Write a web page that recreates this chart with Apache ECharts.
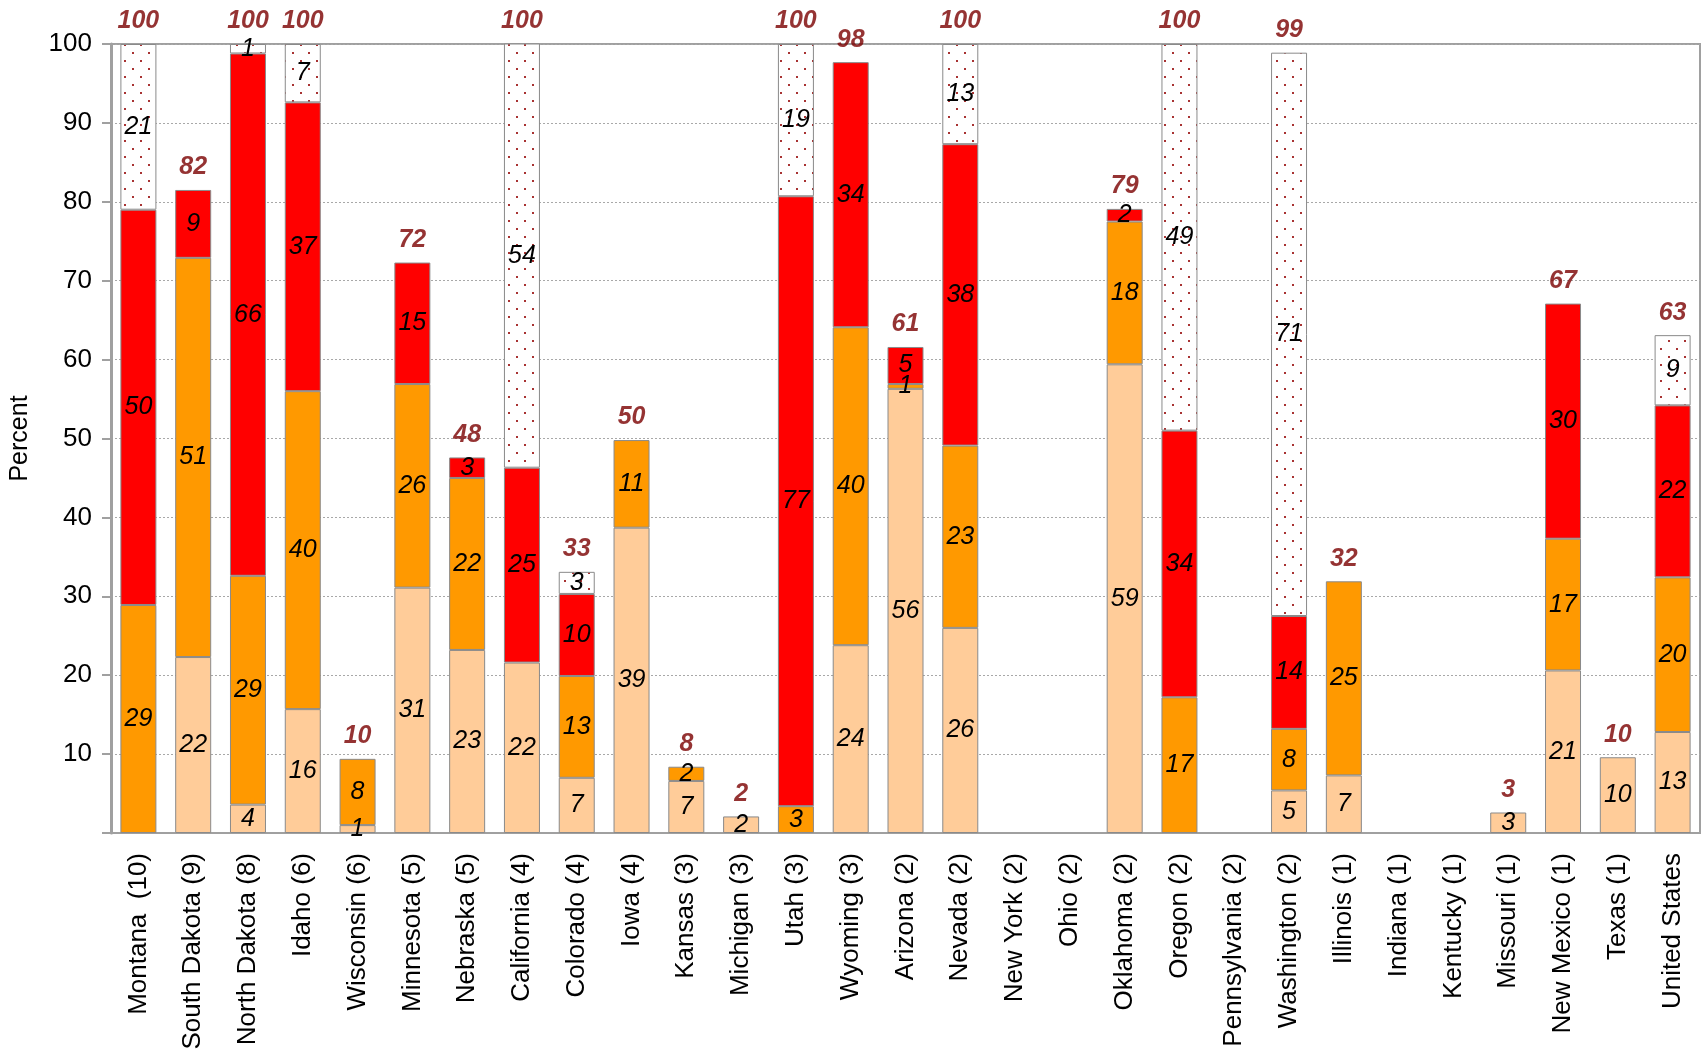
<!DOCTYPE html>
<html>
<head>
<meta charset="utf-8">
<script src="https://cdn.jsdelivr.net/npm/echarts@6/dist/echarts.min.js"></script>
<style>
  html, body { margin: 0; padding: 0; background: #fff; }
  #main { width: 1702px; height: 1057px; }
</style>
</head>
<body>
<div id="main"></div>
<script>
const categories = [
    'Montana  (10)', 'South Dakota (9)', 'North Dakota (8)', 'Idaho (6)', 'Wisconsin (6)',
    'Minnesota (5)', 'Nebraska (5)', 'California (4)', 'Colorado (4)', 'Iowa (4)',
    'Kansas (3)', 'Michigan (3)', 'Utah (3)', 'Wyoming (3)', 'Arizona (2)',
    'Nevada (2)', 'New York (2)', 'Ohio (2)', 'Oklahoma (2)', 'Oregon (2)',
    'Pennsylvania (2)', 'Washington (2)', 'Illinois (1)', 'Indiana (1)', 'Kentucky (1)',
    'Missouri (1)', 'New Mexico (1)', 'Texas (1)', 'United States'
];
// segment heights, bottom to top
const peachPart = [null, 22.3, 3.6, 15.7, 1.0, 31.1, 23.2, 21.6, 7.0, 38.7, 6.6, 2.1, null, 23.8, 56.3,
    26.0, null, null, 59.4, null, null, 5.4, 7.3, null, null, 2.6, 20.6, 9.6, 12.8];
const orangePart = [28.9, 50.6, 29.0, 40.3, 8.4, 25.8, 21.8, null, 12.9, 11.1, 1.8, null, 3.4, 40.3, 0.6,
    23.1, null, null, 18.1, 17.2, null, 7.8, 24.6, null, null, null, 16.7, null, 19.6];
const redPart = [50.1, 8.6, 66.2, 36.6, null, 15.4, 2.6, 24.7, 10.4, null, null, null, 77.3, 33.6, 4.7,
    38.2, null, null, 1.6, 33.8, null, 14.3, null, null, null, null, 29.8, null, 21.8];
const dottedPart = [21.0, null, 1.2, 7.4, null, null, null, 53.8, 2.8, null, null, null, 19.3, null, null,
    12.7, null, null, null, 49.0, null, 71.4, null, null, null, null, null, null, 8.9];
const totalLabels = [100, 82, 100, 100, 10, 72, 48, 100, 33, 50, 8, 2, 100, 98, 61,
    100, null, null, 79, 100, null, 99, 32, null, null, 3, 67, 10, 63];
const yTicks = [0, 100, 10];

const FONT = '"Liberation Sans", Arial, sans-serif';

// dotted fill for the top segment
const tile = document.createElement('canvas');
tile.width = 16;
tile.height = 16;
const g = tile.getContext('2d');
g.fillStyle = '#ffffff';
g.fillRect(0, 0, 16, 16);
g.fillStyle = '#a83232';
g.fillRect(4, 4, 2, 2);
g.fillRect(12, 12, 2, 2);

function segment(name, data, color) {
    return {
        name: name,
        type: 'bar',
        stack: 'all',
        barWidth: 36,
        data: data,
        itemStyle: { color: color, borderColor: '#8a8a8a', borderWidth: 1 },
        label: {
            show: true,
            position: 'inside',
            color: '#000',
            fontStyle: 'italic',
            fontSize: 25,
            fontFamily: FONT,
            formatter: p => (p.value == null ? '' : String(Math.round(p.value)))
        }
    };
}

const sums = categories.map((c, i) =>
    (peachPart[i] || 0) + (orangePart[i] || 0) + (redPart[i] || 0) + (dottedPart[i] || 0));

let myChart = echarts.init(document.getElementById('main'));
myChart.setOption({
    animation: false,
    grid: {
        left: 106,
        right: 2,
        top: 44,
        bottom: 224,
        show: true,
        borderColor: '#a0a0a0',
        borderWidth: 2
    },
    xAxis: {
        type: 'category',
        data: categories,
        axisLine: { lineStyle: { color: '#a0a0a0', width: 2 } },
        axisTick: { length: 8, lineStyle: { color: '#a0a0a0', width: 2 } },
        axisLabel: {
            rotate: 90,
            interval: 0,
            margin: 20,
            color: '#000',
            fontSize: 26,
            fontFamily: FONT
        }
    },
    yAxis: {
        type: 'value',
        min: yTicks[0],
        max: yTicks[1],
        interval: yTicks[2],
        name: 'Percent',
        nameLocation: 'middle',
        nameGap: 78,
        nameTextStyle: { color: '#000', fontSize: 25, fontFamily: FONT },
        axisLine: { show: true, lineStyle: { color: '#a0a0a0', width: 3 } },
        axisTick: { show: true, length: 9, lineStyle: { color: '#a0a0a0', width: 2 } },
        axisLabel: {
            color: '#000',
            fontSize: 26,
            fontFamily: FONT,
            margin: 19,
            formatter: v => (v === 0 ? '' : v)
        },
        splitLine: { lineStyle: { color: '#a8a8a8', type: [2, 2], width: 1 } }
    },
    series: [
        segment('Share 1', peachPart, '#ffcc99'),
        segment('Share 2', orangePart, '#ff9900'),
        segment('Share 3', redPart, '#ff0000'),
        segment('Share 4', dottedPart, { image: tile, repeat: 'repeat' }),
        {
            name: 'Total',
            type: 'scatter',
            symbolSize: 0,
            clip: false,
            silent: true,
            z: 10,
            data: categories.map((c, i) => (totalLabels[i] == null ? null : [i, sums[i]])),
            label: {
                show: true,
                position: 'top',
                distance: 10,
                color: '#7a0000',
                fontWeight: 'bold',
                fontStyle: 'italic',
                fontSize: 25,
                fontFamily: FONT,
                formatter: p => String(totalLabels[p.dataIndex])
            }
        }
    ]
});
</script>
</body>
</html>
